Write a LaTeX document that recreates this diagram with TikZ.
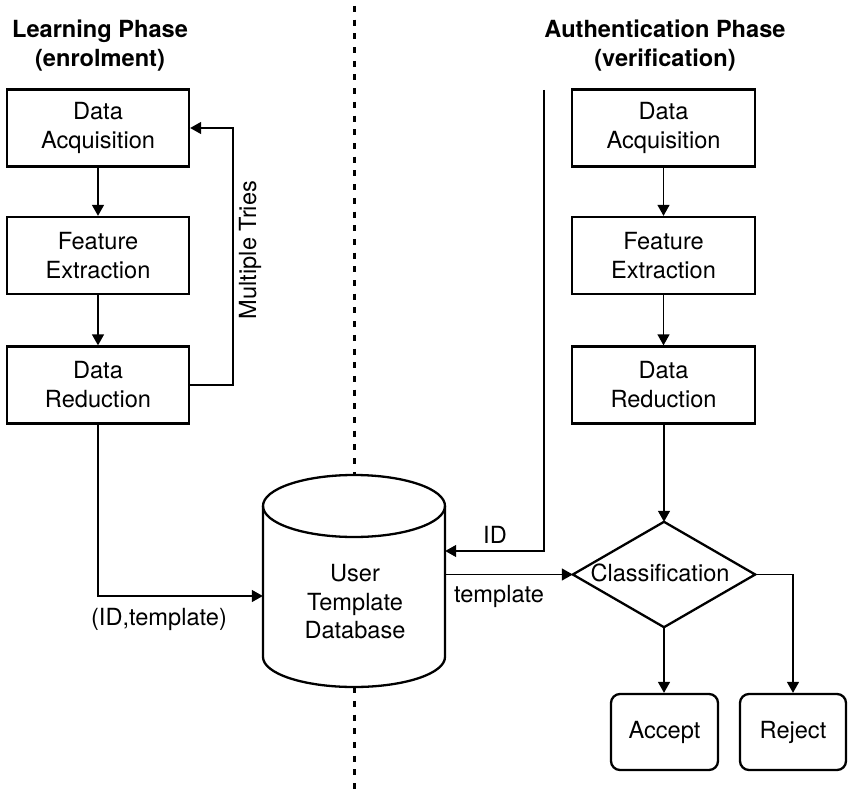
\documentclass[tikz,border=0pt]{standalone}
\usepackage{fontspec}
\setmainfont{TeX Gyre Heros}
\usetikzlibrary{arrows.meta}
\begin{document}
\begin{tikzpicture}[x=1pt,y=-1pt,
  every node/.style={font=\fontsize{23.6}{29}\selectfont},
  procbox/.style={draw,line width=2.3pt,minimum width=182pt,minimum height=77pt,align=center,inner sep=0pt},
  endbox/.style={draw,line width=2.3pt,rounded corners=9pt,minimum width=106pt,minimum height=76pt,align=center,inner sep=0pt},
  conn/.style={line width=1.3pt,-{Triangle[length=11pt,width=12pt]}},
  title/.style={font=\fontsize{23.6}{29}\selectfont\bfseries,align=center},
  sep/.style={line width=3pt,dash pattern=on 6pt off 7.7pt}]
\useasboundingbox (0,0) rectangle (848,789);
% titles
\node[title] (tl) at (100,46) {Learning Phase\\(enrolment)};
\node[title] (tr) at (665,46) {Authentication Phase\\(verification)};
% left column
\node[procbox] (la) at (98,128) {Data\\Acquisition};
\node[procbox] (lf) at (98,255.5) {Feature\\Extraction};
\node[procbox] (lr) at (98,385) {Data\\Reduction};
% right column
\node[procbox,minimum width=183pt] (ra) at (663.5,128) {Data\\Acquisition};
\node[procbox,minimum width=183pt] (rf) at (663.5,255.5) {Feature\\Extraction};
\node[procbox,minimum width=183pt] (rr) at (663.5,385) {Data\\Reduction};
% database
\node[minimum width=182pt,minimum height=212pt,inner sep=0pt] (db) at (354,581) {};
\draw[line width=2.3pt] (263,506) -- (263,657) arc[start angle=180,end angle=360,x radius=91pt,y radius=30pt] -- (445,506);
\draw[line width=2.3pt] (354,506) ellipse[x radius=91pt,y radius=31pt];
\node[align=center,font=\fontsize{23.6}{28.5}\selectfont] (dbt) at (355,602) {User\\Template\\Database};
% separator
\draw[sep] (354,6) -- (db.north);
\draw[sep] (db.south) -- (354,789);
% classification diamond
\node[minimum width=182pt,minimum height=105pt,inner sep=0pt] (cls) at (664,574.5) {};
\draw[line width=2.3pt,line join=miter] (cls.west) -- (cls.north) -- (cls.east) -- (cls.south) -- cycle;
\node (clst) at (660,573) {Classification};
% end boxes
\node[endbox,minimum width=107pt] (acc) at (664.5,732) {Accept};
\node[endbox] (rej) at (793,732) {Reject};
% connectors left
\draw[conn] (la) -- (lf);
\draw[conn] (lf) -- (lr);
\draw[conn] (lr.east) -- (233,385) -- (233,128) -- (la.east);
\node[rotate=90] (mt) at (250,250) {Multiple Tries};
\draw[conn] (lr.south) -- (98,596) -- (db.west |- 0,596);
\node (idt) at (159,619) {(ID,template)};
% connectors right
\draw[conn] (ra) -- (rf);
\draw[conn] (rf) -- (rr);
\draw[conn] (rr.south -| cls.north) -- (cls.north);
\coordinate (idstart) at (544,90);
\draw[conn] (idstart) -- (544,551) -- (db.east |- 0,551);
\node (idl) at (495,535) {ID};
\draw[conn] (db.east |- cls.west) -- (cls.west);
\node (tpl) at (499,596) {template};
\draw[conn] (cls.south) -- (acc.north -| cls.south);
\draw[conn] (cls.east) -- (rej.north |- cls.east) -- (rej.north);
\end{tikzpicture}
\end{document}
